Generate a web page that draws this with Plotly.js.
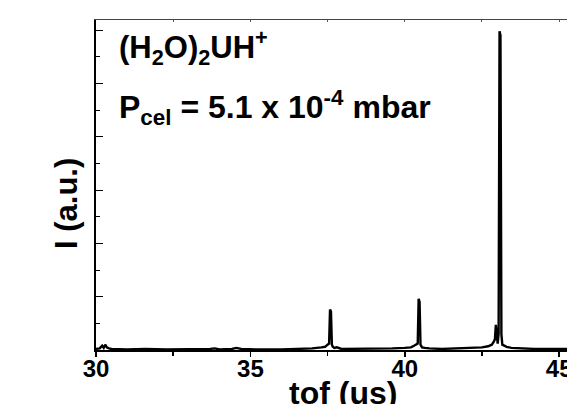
<!DOCTYPE html>
<html>
<head>
<meta charset="utf-8">
<script src="https://cdn.plot.ly/plotly-3.0.1.min.js"></script>
<style>
html,body{margin:0;padding:0;overflow:hidden;background:#fff;width:567px;height:404px;}
#chart{width:620px;height:404px;}
</style>
</head>
<body>
<div id="chart"></div>
<script>
// time of flight (us)
const tof = [30.0, 30.12, 30.2, 30.25, 30.3, 30.35, 30.42, 30.5, 31.0, 31.6, 32.3, 33.0, 33.7, 33.85, 34.0, 34.4, 34.55, 34.7, 35.2, 36.0, 36.6, 37.0, 37.3, 37.42, 37.5, 37.55, 37.58, 37.61, 37.64, 37.67, 37.72, 37.8, 37.95, 38.3, 39.0, 39.6, 40.0, 40.2, 40.3, 40.38, 40.42, 40.45, 40.48, 40.51, 40.56, 40.65, 40.8, 41.2, 41.7, 42.2, 42.5, 42.7, 42.82, 42.88, 42.92, 42.95, 42.98, 43.01, 43.04, 43.07, 43.1, 43.13, 43.16, 43.22, 43.3, 43.45, 43.7, 44.2, 45.0, 45.6, 46.0];
// intensity (a.u.)
const intensity = [0.02, 0.03, 0.08, 0.04, 0.1, 0.05, 0.03, 0.02, 0.01, 0.02, 0.01, 0.01, 0.02, 0.03, 0.01, 0.02, 0.04, 0.02, 0.01, 0.01, 0.02, 0.03, 0.05, 0.06, 0.1, 0.12, 0.76, 0.72, 0.1, 0.06, 0.04, 0.05, 0.02, 0.02, 0.02, 0.03, 0.04, 0.05, 0.08, 0.1, 0.12, 0.96, 0.9, 0.1, 0.05, 0.04, 0.03, 0.02, 0.03, 0.04, 0.05, 0.07, 0.1, 0.15, 0.2, 0.47, 0.28, 0.12, 0.3, 5.98, 5.9, 0.3, 0.1, 0.08, 0.06, 0.04, 0.03, 0.02, 0.02, 0.01, 0.01];

const xTickVals = [30, 35, 40, 45];
const xTickText = ['30', '35', '40', '45'];

const F = 'Liberation Sans, Arial, sans-serif';

const data = [{
  x: tof, y: intensity, type: 'scatter', mode: 'lines',
  line: {color: '#000', width: 2.4}, hoverinfo: 'skip', showlegend: false
}, {
  x: [30, 46], y: [null, null], xaxis: 'x2', yaxis: 'y', type: 'scatter', mode: 'lines', showlegend: false, hoverinfo: 'skip'
}];

const layout = {
  width: 620, height: 404,
  margin: {l: 96, r: 30, t: 20, b: 54},
  paper_bgcolor: '#fff', plot_bgcolor: '#fff',
  showlegend: false,
  xaxis: {
    range: [30, 46], showgrid: false, zeroline: false,
    showline: true, linecolor: '#000', linewidth: 2,
    ticks: 'outside', ticklen: 5, tickwidth: 1.5, tickcolor: '#000',
    tickvals: xTickVals, ticktext: xTickText,
    ticklabelstandoff: -9,
    minor: {dtick: 2.5, tick0: 30, ticks: 'outside', ticklen: 4, tickwidth: 1.5, tickcolor: '#000'},
    tickfont: {family: F, size: 24, color: '#000', weight: 'bold'},
    mirror: false
  },
  xaxis2: {
    overlaying: 'x', side: 'top', range: [30, 46], showgrid: false, zeroline: false,
    showline: true, linecolor: '#444', linewidth: 1.5,
    ticks: 'inside', ticklen: 2, tickwidth: 1, tickcolor: '#555',
    dtick: 2.5, tick0: 30, showticklabels: false
  },
  yaxis: {
    range: [0, 6.19], showgrid: false, zeroline: false,
    showline: true, linecolor: '#000', linewidth: 2,
    ticks: 'inside', ticklen: 7, tickwidth: 1, tickcolor: '#000',
    dtick: 1, tick0: 0, showticklabels: false,
    minor: {dtick: 0.5, ticks: 'inside', ticklen: 4, tickwidth: 1, tickcolor: '#000'}
  },
  annotations: [
    {xref: 'paper', yref: 'paper', x: 0.043, y: 0.99, xanchor: 'left', yanchor: 'top', showarrow: false,
     text: '(H<sub>2</sub>O)<sub>2</sub>UH<sup>+</sup>', font: {family: F, size: 31, color: '#000', weight: 'bold'}},
    {xref: 'paper', yref: 'paper', x: 0.043, y: 0.81, xanchor: 'left', yanchor: 'top', showarrow: false,
     text: 'P<sub>cel</sub> = 5.1 x 10<sup>-4</sup> mbar', font: {family: F, size: 32, color: '#000', weight: 'bold'}},
    {xref: 'paper', yref: 'paper', x: -0.061, y: 0.445, xanchor: 'center', yanchor: 'middle', showarrow: false, textangle: -90,
     text: 'I (a.u.)', font: {family: F, size: 31, color: '#000', weight: 'bold'}},
    {xref: 'paper', yref: 'paper', x: 0.5, y: -0.07, xanchor: 'center', yanchor: 'top', showarrow: false,
     text: 'tof (us)', font: {family: F, size: 32, color: '#000', weight: 'bold'}}
  ]
};

Plotly.newPlot('chart', data, layout, {staticPlot: true, displayModeBar: false});
</script>
</body>
</html>
